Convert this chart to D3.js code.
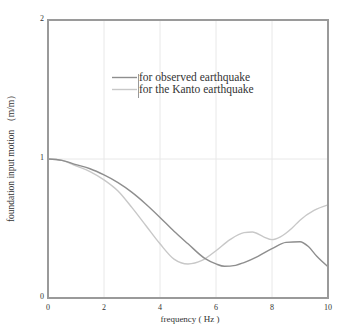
<!DOCTYPE html>
<html>
<head>
<meta charset="utf-8">
<script src="https://cdn.jsdelivr.net/npm/d3@7"></script>
<style>
  body { margin: 0; background: #fff; }
  text { font-family: "Liberation Serif", "DejaVu Serif", serif; fill: #333; }
</style>
</head>
<body>
<div id="chart"></div>
<script>
// frequency (Hz) sample points and response
const observedFreq = [0, 0.5, 1, 1.5, 2, 2.5, 3, 3.5, 4, 4.5, 5, 5.6, 6, 6.3, 6.7, 7, 7.5, 8, 8.5, 9, 9.3, 9.6, 10];
const observedVals = [1, 0.99, 0.96, 0.93, 0.885, 0.83, 0.76, 0.675, 0.58, 0.48, 0.39, 0.285, 0.245, 0.228, 0.235, 0.255, 0.3, 0.355, 0.4, 0.405, 0.37, 0.3, 0.225];

const kantoFreq = [0, 0.5, 1, 1.5, 2, 2.5, 3, 3.5, 4, 4.5, 5, 5.5, 6, 6.5, 7, 7.3, 7.7, 8, 8.3, 8.7, 9, 9.5, 10];
const kantoVals = [1, 0.99, 0.95, 0.91, 0.85, 0.77, 0.65, 0.52, 0.39, 0.28, 0.245, 0.27, 0.34, 0.42, 0.47, 0.475, 0.44, 0.42, 0.44, 0.5, 0.56, 0.63, 0.67];

const seriesNames = ["for observed earthquake", "for the Kanto earthquake"];
const seriesColors = ["#8e8e8e", "#c8c8c8"];
const xTicks = [0, 2, 4, 6, 8, 10];
const yTicks = [0, 1, 2];

const width = 342;
const height = 334;
const plotLeft = 48, plotRight = 328, plotTop = 20, plotBottom = 298;

const svg = d3.select("#chart")
    .append("svg")
        .attr("width", width)
        .attr("height", height);

const x = d3.scaleLinear().domain([0, 10]).range([plotLeft, plotRight]);
const y = d3.scaleLinear().domain([0, 2]).range([plotBottom, plotTop]);

// grid
svg.selectAll(".vgrid")
    .data(xTicks.slice(1, -1))
    .join("line")
        .attr("x1", d => x(d)).attr("x2", d => x(d))
        .attr("y1", plotTop).attr("y2", plotBottom)
        .attr("stroke", "#e8e8e8")
        .attr("stroke-width", 1);

svg.selectAll(".hgrid")
    .data(yTicks.slice(1, -1))
    .join("line")
        .attr("x1", plotLeft).attr("x2", plotRight)
        .attr("y1", d => y(d)).attr("y2", d => y(d))
        .attr("stroke", "#e8e8e8")
        .attr("stroke-width", 1);

// lines
const line = d3.line()
    .x(d => x(d[0]))
    .y(d => y(d[1]))
    .curve(d3.curveMonotoneX);

const series = [
    d3.zip(kantoFreq, kantoVals),
    d3.zip(observedFreq, observedVals)
];
const seriesCol = [seriesColors[1], seriesColors[0]];

svg.selectAll(".series")
    .data(series)
    .join("path")
        .attr("d", line)
        .attr("fill", "none")
        .attr("stroke", (d, i) => seriesCol[i])
        .attr("stroke-width", 1.4);

// frame
svg.append("rect")
    .attr("x", plotLeft).attr("y", plotTop)
    .attr("width", plotRight - plotLeft).attr("height", plotBottom - plotTop)
    .attr("fill", "none")
    .attr("stroke", "#9a9a9a")
    .attr("stroke-width", 2);

// tick labels
svg.selectAll(".xlabel")
    .data(xTicks)
    .join("text")
        .attr("x", d => x(d))
        .attr("y", 310)
        .attr("text-anchor", "middle")
        .attr("font-size", 8)
        .text(d => d);

svg.selectAll(".ylabel")
    .data(yTicks)
    .join("text")
        .attr("x", plotLeft - 4)
        .attr("y", d => y(d) + 1)
        .attr("text-anchor", "end")
        .attr("font-size", 8)
        .text(d => d);

// axis titles
svg.append("text")
    .attr("x", 190)
    .attr("y", 322)
    .attr("text-anchor", "middle")
    .attr("font-size", 9)
    .text("frequency ( Hz )");

svg.append("text")
    .attr("transform", "translate(14,156) rotate(-90)")
    .attr("text-anchor", "middle")
    .attr("font-size", 9.5)
    .text("foundation input motion （m/m）");

// legend
const legend = svg.append("g");
legend.selectAll("line.key")
    .data(seriesNames)
    .join("line")
        .attr("x1", 112).attr("x2", 137)
        .attr("y1", (d, i) => 77.5 + i * 12)
        .attr("y2", (d, i) => 77.5 + i * 12)
        .attr("stroke", (d, i) => seriesColors[i])
        .attr("stroke-width", 1.4);

legend.append("line")
    .attr("x1", 138.5).attr("x2", 138.5)
    .attr("y1", 74).attr("y2", 98)
    .attr("stroke", "#999")
    .attr("stroke-width", 1);

legend.selectAll("text")
    .data(seriesNames)
    .join("text")
        .attr("x", 139)
        .attr("y", (d, i) => 81 + i * 12)
        .attr("font-size", 11.5)
        .attr("fill", "#222")
        .text(d => d);
</script>
</body>
</html>
